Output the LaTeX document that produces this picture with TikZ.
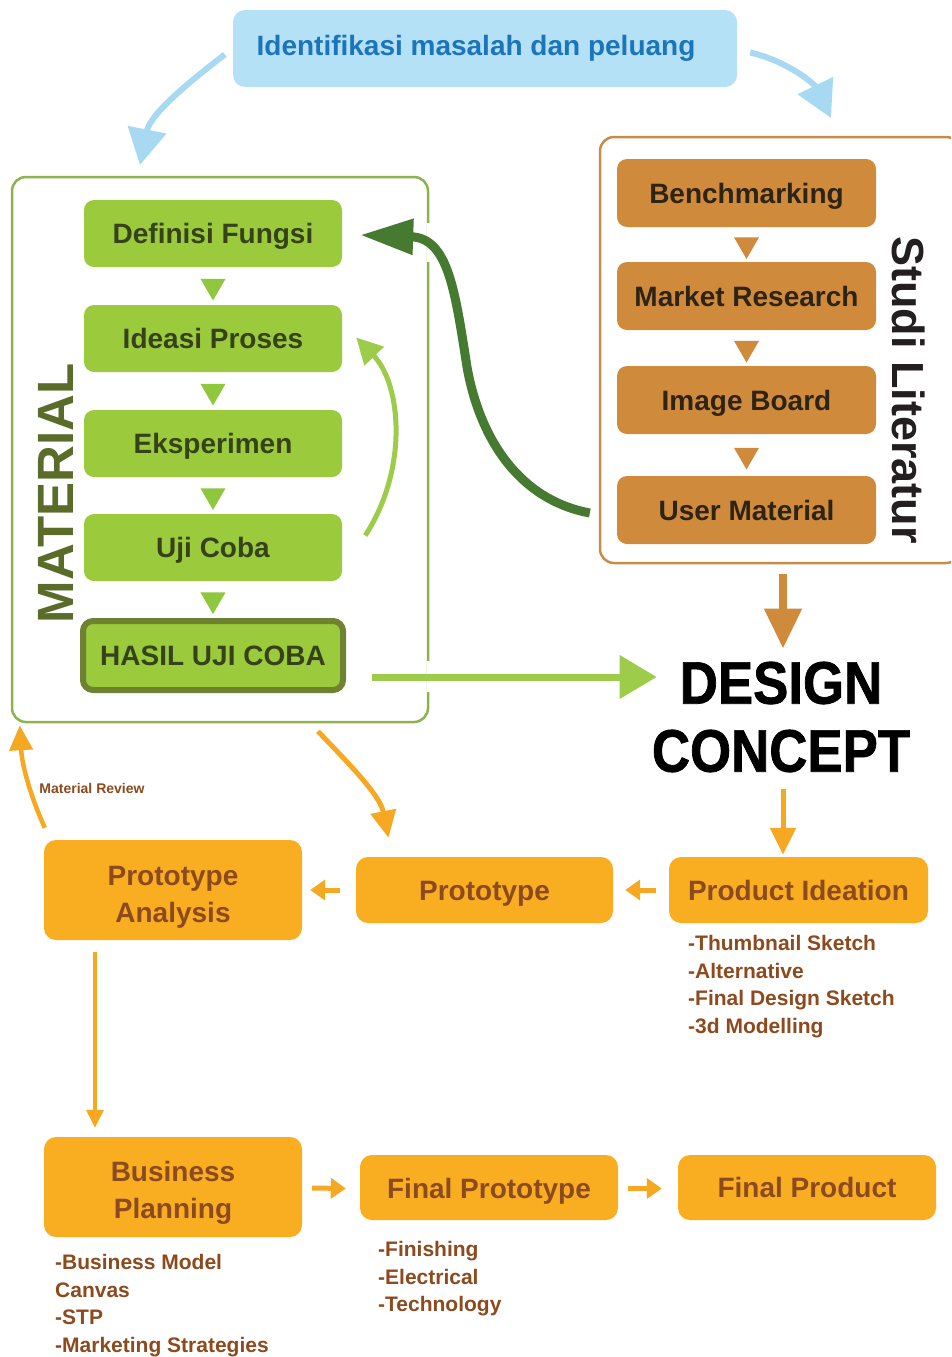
\documentclass[tikz,border=0pt]{standalone}
\usepackage{fontspec}
\setmainfont{Liberation Sans}
\newfontfamily\condfont[FakeStretch=0.88,FakeBold=1.2]{Liberation Sans}
\usetikzlibrary{arrows.meta,calc,shapes.geometric}
\definecolor{blueFill}{HTML}{B5E1F7}
\definecolor{blueArr}{HTML}{A7D9F2}
\definecolor{blueTxt}{HTML}{1C74BB}
\definecolor{grnFill}{HTML}{9BCB3C}
\definecolor{grnBorder}{HTML}{8DB34E}
\definecolor{grnTxt}{HTML}{35421A}
\definecolor{grnTri}{HTML}{8FC73E}
\definecolor{olive}{HTML}{6E8231}
\definecolor{matTxt}{HTML}{5B6C2A}
\definecolor{darkGrn}{HTML}{477A31}
\definecolor{lightGrn}{HTML}{9DCC4B}
\definecolor{brnFill}{HTML}{CF8A3B}
\definecolor{brnBorder}{HTML}{C98B48}
\definecolor{brnTxt}{HTML}{2E2416}
\definecolor{studiTxt}{HTML}{231F20}
\definecolor{orgFill}{HTML}{F9AE22}
\definecolor{orgArr}{HTML}{F6A823}
\definecolor{orgTxt}{HTML}{8C4A1E}
\begin{document}
\begin{tikzpicture}[x=1pt,y=-1pt,
  boxfont/.style={font=\bfseries\fontsize{28}{30}\selectfont},
  gbox/.style={boxfont, fill=grnFill, text=grnTxt, rounded corners=10pt, minimum width=258pt, minimum height=67pt, inner sep=0pt, text height=20.5pt, text depth=0pt},
  bbox/.style={boxfont, fill=brnFill, text=brnTxt, rounded corners=10pt, minimum width=259pt, minimum height=68pt, inner sep=0pt, text height=20.5pt, text depth=0pt},
  obox/.style={font=\bfseries\fontsize{28}{37}\selectfont, fill=orgFill, text=orgTxt, rounded corners=12pt, minimum width=258pt, align=center, inner sep=0pt},
  gtri/.style={regular polygon, regular polygon sides=3, shape border rotate=180, fill=grnTri, minimum size=29pt, inner sep=0pt},
  btri/.style={regular polygon, regular polygon sides=3, shape border rotate=180, fill=brnFill, minimum size=29pt, inner sep=0pt},
  listtxt/.style={font=\bfseries\fontsize{21}{27.7}\selectfont, text=orgTxt, align=left, anchor=north west, inner sep=0pt},
  bluearrow/.style={draw=blueArr, line width=6pt, -{Triangle[length=36pt,width=38pt]}},
  orgarrow/.style={draw=orgArr, line width=5pt, -{Triangle[length=27pt,width=25pt]}},
  smallarrow/.style={draw=orgArr, line width=5pt, -{Triangle[length=15pt,width=20pt]}}
]
\useasboundingbox (0,0) rectangle (951,1357);
\fill[white] (0,0) rectangle (951,1357);
\clip (0,0) rectangle (951,1357);

% top
\node[fill=blueFill, rounded corners=12pt, minimum width=504pt, minimum height=77pt, text=blueTxt, boxfont] (ident) at (485,48.5) {\hspace{-18pt}Identifikasi masalah dan peluang};

% containers
\node[draw=grnBorder, line width=2.5pt, rounded corners=14pt, minimum width=416pt, minimum height=545pt] (material) at (220,449.5) {};
\node[draw=brnBorder, line width=2.5pt, rounded corners=14pt, minimum width=360pt, minimum height=426pt] (studi) at (780,350) {};

\node[rotate=90, text=matTxt, font=\bfseries\fontsize{51}{51}\selectfont, inner sep=0pt] (matlbl) at (56,493.5) {MATERIAL};
\node[rotate=-90, text=studiTxt, font=\bfseries\fontsize{45}{45}\selectfont, inner sep=0pt] (studilbl) at (909,390) {Studi Literatur};

% green column
\node[gbox] (defi) at (213,233.5) {Definisi Fungsi};
\node[gbox] (idea) at (213,338.5) {Ideasi Proses};
\node[gbox] (eksp) at (213,443.5) {Eksperimen};
\node[gbox] (uji) at (213,547.5) {Uji Coba};
\node[gbox, draw=olive, line width=6pt, minimum width=260pt, minimum height=69pt] (hasil) at (213,655.5) {HASIL UJI COBA};
\path (defi) -- (idea) node[midway, gtri] {};
\path (idea) -- (eksp) node[midway, gtri] {};
\path (eksp) -- (uji) node[midway, gtri] {};
\path (uji.south) -- (hasil.north) node[midway, gtri] {};

% brown column
\node[bbox] (bench) at (746.5,193) {Benchmarking};
\node[bbox] (market) at (746.5,296) {Market Research};
\node[bbox] (image) at (746.5,400) {Image Board};
\node[bbox] (user) at (746.5,510) {User Material};
\path (bench) -- (market) node[midway, btri] {};
\path (market) -- (image) node[midway, btri] {};
\path (image) -- (user) node[midway, btri] {};

% design concept
\node[align=center, font=\condfont\bfseries\fontsize{60}{68}\selectfont, inner sep=0pt] (design) at (781,717) {DESIGN\\CONCEPT};

% orange boxes
\node[obox, minimum height=100pt] (panal) at (173,890) {\rule{0pt}{34pt}Prototype\\Analysis};
\node[obox, minimum height=66pt, minimum width=257pt] (proto) at (484.5,890) {\rule{0pt}{26pt}Prototype};
\node[obox, minimum height=66pt, minimum width=259pt] (pide) at (798.5,890) {Product Ideation};
\node[obox, minimum height=100pt] (bplan) at (173,1187) {\rule{0pt}{31pt}Business\\Planning};
\node[obox, minimum height=65pt] (fproto) at (489,1187.5) {\rule{0pt}{28pt}Final Prototype};
\node[obox, minimum height=65pt] (fprod) at (807,1187.5) {Final Product};

% lists
\node[listtxt] (pidelist) at (688,935) {-Thumbnail Sketch\\-Alternative\\-Final Design Sketch\\-3d Modelling};
\node[listtxt] (bplist) at (55,1254) {-Business Model\\Canvas\\-STP\\-Marketing Strategies};
\node[listtxt] (fplist) at (378,1241) {-Finishing\\-Electrical\\-Technology};
\node[font=\bfseries\fontsize{14}{16}\selectfont, text=orgTxt, inner sep=0pt] (mreview) at (92,788) {Material Review};

% gaps in material border
\draw[white, line width=5pt] (material.east |- 0,223) -- (material.east |- 0,262);
\draw[white, line width=5pt] (material.east |- 0,661) -- (material.east |- 0,692);

% blue arrows
\draw[bluearrow] ($(ident.west)+(-8,6)$) .. controls (185,85) and (150,115) .. (140,165);
\draw[bluearrow] ($(ident.east)+(13,4)$) .. controls (790,62) and (815,85) .. (831,118);

% dark green arrow User Material -> Definisi Fungsi
\draw[darkGrn, line width=9pt, -{Triangle[length=53pt,width=34pt]}]
  ($(user.west)+(-27,3)$) .. controls (520,500) and (480,440) .. (467,367)
  .. controls (455,290) and (448,238) .. ($(defi.east)+(18,1.5)$);

% light green loop Uji Coba -> Ideasi Proses
\draw[lightGrn, line width=5pt, -{Triangle[length=26pt,width=26pt]}]
  ($(uji.east)+(23,-12)$) .. controls (408,470) and (402,385) .. ($(idea.east)+(14,-1)$);

% HASIL -> DESIGN
\draw[lightGrn, line width=7pt, -{Triangle[length=37pt,width=42pt]}]
  ($(hasil.east)+(26,21.5)$) -- ($(design.west)+(5,-40)$);

% studi -> design
\draw[draw=brnFill, line width=8pt, -{Triangle[length=40pt,width=36pt]}]
  ($(studi.south)+(3,10)$) -- ($(design.north)+(2,-13)$);

% design -> product ideation
\draw[orgarrow] ($(design.south)+(2,17)$) -- ($(pide.north)+(-15.5,-2)$);

% material -> prototype
\draw[orgarrow] ($(material.south)+(98,8)$) .. controls (350,765) and (380,795) .. ($(proto.north)+(-96,-19)$);

% material review
\draw[draw=orgArr, line width=4.5pt, -{Triangle[length=25pt,width=23pt]}]
  ($(panal.north west)+(1,-12)$) .. controls (30,795) and (22,765) .. ($(material.south west)+(9,2)$);

% horizontal small arrows
\draw[smallarrow] ($(proto.west)+(-16,0)$) -- ($(panal.east)+(8,0)$);
\draw[smallarrow] ($(pide.west)+(-13,0)$) -- ($(proto.east)+(12,0)$);
\draw[smallarrow] ($(bplan.east)+(10,1)$) -- ($(fproto.west)+(-14,1)$);
\draw[smallarrow] ($(fproto.east)+(10,1)$) -- ($(fprod.west)+(-16,1)$);

% vertical
\draw[draw=orgArr, line width=3.5pt, -{Triangle[length=18pt,width=17pt]}]
  ($(panal.south)+(-78,12)$) -- ($(bplan.north)+(-78,-9)$);
\end{tikzpicture}
\end{document}
